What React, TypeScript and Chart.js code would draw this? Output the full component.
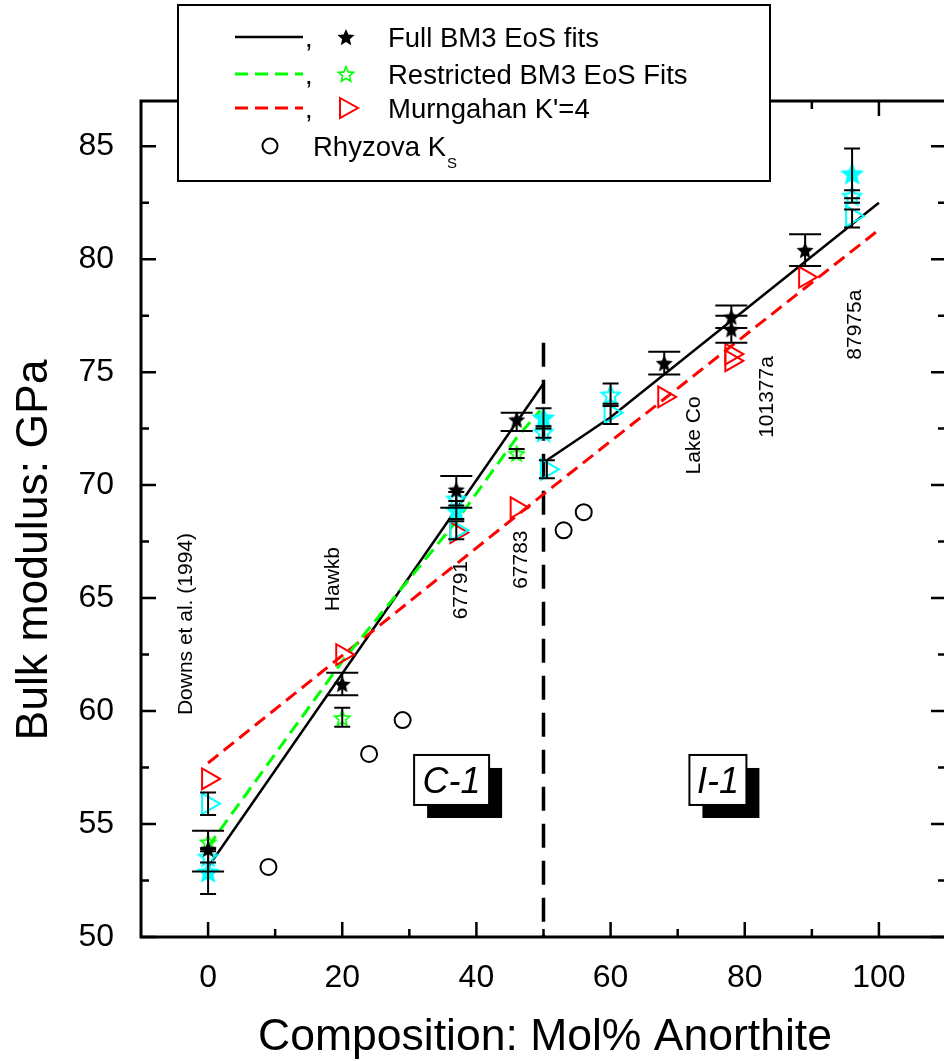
import React, { useEffect, useRef } from "react";
import { Chart, registerables } from "chart.js";
Chart.register(...registerables);

// ---------------- DATA ----------------
// Full BM3 EoS fits (black filled stars) with error bars
const fullBM3X = [0, 20, 37, 46, 68, 78, 78, 89];
const fullBM3Y = [53.9, 61.2, 69.8, 72.9, 75.4, 77.45, 76.9, 80.4];
const fullBM3Lo = [52.9, 60.7, 69.0, 72.4, 74.9, 76.95, 76.3, 79.7];
const fullBM3Hi = [54.7, 61.7, 70.4, 73.2, 75.9, 77.95, 77.5, 81.1];

// Restricted BM3 EoS fits (green open stars)
const restrictedX = [0, 20, 46];
const restrictedY = [54.2, 59.7, 71.4];
const restrictedLo = [null, 59.3, 71.2];
const restrictedHi = [null, 60.15, 71.6];

// Murnaghan K'=4 (red open triangles)
const murnaghanX = [0, 20, 37, 46, 68, 78, 78, 89];
const murnaghanY = [57.0, 62.5, 67.9, 69.0, 73.9, 75.8, 75.5, 79.2];

// Rhyzova K_S (open circles)
const rhyzovaX = [9, 24, 29, 53, 56];
const rhyzovaY = [53.1, 58.1, 59.6, 68.0, 68.8];

// Second sample set (cyan)
const cyanFullX = [0, 37, 50, 96];
const cyanFullY = [52.9, 68.9, 73.0, 83.8];
const cyanFullLo = [51.9, 68.5, 72.5, 82.7];
const cyanFullHi = [53.9, 69.3, 73.4, 84.9];

const cyanRestrX = [0, 37, 50, 60, 96];
const cyanRestrY = [53.55, 69.4, 72.35, 74.0, 82.8];
const cyanRestrLo = [53.3, 69.1, 72.1, 73.5, 82.5];
const cyanRestrHi = [53.8, 69.7, 72.6, 74.5, 83.05];

const cyanMurnX = [0, 37, 50.5, 60, 96];
const cyanMurnY = [55.9, 68.0, 70.7, 73.2, 81.9];
const cyanMurnLo = [55.4, 67.6, 70.3, 72.7, 81.4];
const cyanMurnHi = [56.4, 68.4, 71.1, 73.6, 82.2];

// Fit lines
const fullFitC1X = [0, 50];
const fullFitC1Y = [53.1, 74.5];
const fullFitI1X = [50, 60, 100];
const fullFitI1Y = [71.0, 73.0, 82.5];
const restrFitX = [0, 20, 37, 46, 49.5];
const restrFitY = [54.0, 62.2, 68.4, 72.1, 73.3];
const murnFitX = [0, 50, 100];
const murnFitY = [57.7, 69.6, 81.3];

// C-1 / I-1 boundary
const boundaryX = 50;
const boundaryY = [76.3, 50];

// Axes
const xTickVals = [0, 20, 40, 60, 80, 100];
const xMinorVals = [10, 30, 50, 70, 90];
const yTickVals = [50, 55, 60, 65, 70, 75, 80, 85];
const yMinorVals = [52.5, 57.5, 62.5, 67.5, 72.5, 77.5, 82.5];

// Sample labels
const sampleLabels = ["Downs et al. (1994)", "Hawkb", "67791", "67783", "Lake Co", "101377a", "87975a"];
const sampleLabelX = [-3.3, 18.7, 37.7, 46.7, 72.5, 83.4, 96.4];
const sampleLabelY = [63.85, 65.84, 65.35, 66.7, 72.2, 73.9, 77.1];

const legendLabels = ["Full BM3 EoS fits", "Restricted BM3 EoS Fits", "Murngahan K'=4", "Rhyzova K"];

// ---------------- LAYOUT ----------------
const CW = 960;
const CH = 1061;
const FONT = "Arial, 'Liberation Sans', Helvetica, sans-serif";

const zip = (xs: number[], ys: (number | null)[]) => xs.map((x, i) => ({ x, y: ys[i] as number }));

function starPath(ctx: CanvasRenderingContext2D, cx: number, cy: number, R: number, r: number) {
  ctx.beginPath();
  for (let i = 0; i < 10; i++) {
    const ang = -Math.PI / 2 + (i * Math.PI) / 5;
    const rad = i % 2 === 0 ? R : r;
    const px = cx + Math.cos(ang) * rad;
    const py = cy + Math.sin(ang) * rad;
    if (i === 0) ctx.moveTo(px, py);
    else ctx.lineTo(px, py);
  }
  ctx.closePath();
}

function makeStar(R: number, fill: string | null, stroke: string | null, lw: number) {
  const s = Math.ceil(2 * R + lw * 2 + 4);
  const c = document.createElement("canvas");
  c.width = s;
  c.height = s;
  const ctx = c.getContext("2d")!;
  starPath(ctx, s / 2, s / 2 + R * 0.1, R, R * 0.45);
  if (fill) {
    ctx.fillStyle = fill;
    ctx.fill();
  }
  if (stroke) {
    ctx.strokeStyle = stroke;
    ctx.lineWidth = lw;
    ctx.stroke();
  }
  return c;
}

export default function App() {
  const ref = useRef<HTMLCanvasElement>(null);

  useEffect(() => {
    const canvas = ref.current!;
    const blackStar = makeStar(9, "#000", null, 0);
    const cyanStar = makeStar(12.5, "#00ffff", null, 0);
    const greenOpenStar = makeStar(8, null, "#00ff00", 1.6);
    const cyanOpenStar = makeStar(9.5, null, "#00ffff", 2);

    const errGroups = [
      { xs: fullBM3X, lo: fullBM3Lo, hi: fullBM3Hi, cap: 16 },
      { xs: restrictedX, lo: restrictedLo, hi: restrictedHi, cap: 8 },
      { xs: cyanFullX, lo: cyanFullLo, hi: cyanFullHi, cap: 8 },
      { xs: cyanRestrX, lo: cyanRestrLo, hi: cyanRestrHi, cap: 8 },
      { xs: cyanMurnX, lo: cyanMurnLo, hi: cyanMurnHi, cap: 8 },
    ];

    const decor = {
      id: "decor",
      beforeDatasetsDraw(chart: any) {
        const { ctx, scales } = chart;
        const x = scales.x, y = scales.y;
        ctx.save();
        ctx.strokeStyle = "#000";
        ctx.lineWidth = 3.5;
        ctx.setLineDash([24, 13]);
        const px = x.getPixelForValue(boundaryX);
        ctx.beginPath();
        ctx.moveTo(px, y.getPixelForValue(boundaryY[0]));
        ctx.lineTo(px, y.getPixelForValue(boundaryY[1]));
        ctx.stroke();
        ctx.restore();
      },
      afterDatasetsDraw(chart: any) {
        const { ctx, scales, chartArea } = chart;
        const x = scales.x, y = scales.y;
        ctx.save();
        // error bars
        ctx.strokeStyle = "#000";
        ctx.lineWidth = 2;
        ctx.setLineDash([]);
        errGroups.forEach((g) => {
          g.xs.forEach((xv, i) => {
            const lo = g.lo[i], hi = g.hi[i];
            if (lo == null || hi == null) return;
            const px = x.getPixelForValue(xv);
            const pl = y.getPixelForValue(lo);
            const ph = y.getPixelForValue(hi);
            ctx.beginPath();
            ctx.moveTo(px, pl);
            ctx.lineTo(px, ph);
            ctx.moveTo(px - g.cap, pl);
            ctx.lineTo(px + g.cap, pl);
            ctx.moveTo(px - g.cap, ph);
            ctx.lineTo(px + g.cap, ph);
            ctx.stroke();
          });
        });

        // frame
        const { left, right, top, bottom } = chartArea;
        ctx.lineWidth = 3;
        ctx.strokeRect(left, top, right - left, bottom - top);
        // ticks
        ctx.lineWidth = 2.5;
        ctx.beginPath();
        const tk = (vals: number[], len: number) => {
          vals.forEach((v) => {
            const px = x.getPixelForValue(v);
            ctx.moveTo(px, bottom);
            ctx.lineTo(px, bottom - len);
            ctx.moveTo(px, top);
            ctx.lineTo(px, top + len);
          });
        };
        const tky = (vals: number[], len: number) => {
          vals.forEach((v) => {
            const py = y.getPixelForValue(v);
            ctx.moveTo(left, py);
            ctx.lineTo(left + len, py);
            ctx.moveTo(right, py);
            ctx.lineTo(right - len, py);
          });
        };
        tk(xTickVals, 15);
        tk(xMinorVals, 8);
        tky(yTickVals, 15);
        tky(yMinorVals, 8);
        ctx.stroke();

        // sample labels (rotated)
        ctx.fillStyle = "#000";
        ctx.font = `21px ${FONT}`;
        ctx.textAlign = "center";
        ctx.textBaseline = "middle";
        sampleLabels.forEach((t, i) => {
          ctx.save();
          ctx.translate(x.getPixelForValue(sampleLabelX[i]), y.getPixelForValue(sampleLabelY[i]));
          ctx.rotate(-Math.PI / 2);
          ctx.fillText(t, 0, 0);
          ctx.restore();
        });

        // phase boxes
        const phaseBox = (label: string, cx: number, cy: number, w: number, h: number) => {
          const px = x.getPixelForValue(cx);
          const py = y.getPixelForValue(cy);
          ctx.fillStyle = "#000";
          ctx.fillRect(px - w / 2 + 13, py - h / 2 + 13, w, h);
          ctx.fillStyle = "#fff";
          ctx.fillRect(px - w / 2, py - h / 2, w, h);
          ctx.strokeStyle = "#000";
          ctx.lineWidth = 2;
          ctx.strokeRect(px - w / 2, py - h / 2, w, h);
          ctx.fillStyle = "#000";
          ctx.font = `italic 36px ${FONT}`;
          ctx.textAlign = "center";
          ctx.textBaseline = "alphabetic";
          ctx.fillText(label, px, py + 13);
        };
        phaseBox("C-1", 36.3, 56.95, 75, 50);
        phaseBox("I-1", 76.0, 56.95, 57, 50);

        // axis titles
        ctx.fillStyle = "#000";
        ctx.font = `44.5px ${FONT}`;
        ctx.textAlign = "center";
        ctx.textBaseline = "alphabetic";
        ctx.fillText("Composition: Mol% Anorthite", 545, 1050);
        ctx.save();
        ctx.translate(47, 550);
        ctx.rotate(-Math.PI / 2);
        ctx.fillText("Bulk modulus: GPa", 0, 0);
        ctx.restore();

        // legend
        const LX = 178, LY = 5, LW = 592, LH = 176;
        ctx.fillStyle = "#fff";
        ctx.fillRect(LX, LY, LW, LH);
        ctx.strokeStyle = "#000";
        ctx.lineWidth = 2;
        ctx.strokeRect(LX, LY, LW, LH);
        const rows = [37, 74, 108];
        const lineColors = ["#000", "#00ff00", "#ff0000"];
        rows.forEach((ry, i) => {
          ctx.strokeStyle = lineColors[i];
          ctx.lineWidth = i === 0 ? 2.5 : 3;
          ctx.setLineDash(i === 0 ? [] : [13, 7]);
          ctx.beginPath();
          ctx.moveTo(235, ry);
          ctx.lineTo(303, ry);
          ctx.stroke();
          ctx.setLineDash([]);
          ctx.fillStyle = "#000";
          ctx.font = `27.5px ${FONT}`;
          ctx.textAlign = "left";
          ctx.textBaseline = "alphabetic";
          ctx.fillText(",", 305, ry + 10);
          ctx.fillText(legendLabels[i], 388, ry + 10);
        });
        ctx.drawImage(blackStar, 346 - blackStar.width / 2, 37 - blackStar.height / 2);
        ctx.drawImage(greenOpenStar, 346 - greenOpenStar.width / 2, 74 - greenOpenStar.height / 2);
        // triangle
        ctx.strokeStyle = "#ff0000";
        ctx.lineWidth = 2;
        ctx.beginPath();
        ctx.moveTo(340, 98);
        ctx.lineTo(358, 108);
        ctx.lineTo(340, 118);
        ctx.closePath();
        ctx.stroke();
        // circle
        ctx.strokeStyle = "#000";
        ctx.beginPath();
        ctx.arc(270, 146, 7.5, 0, Math.PI * 2);
        ctx.stroke();
        ctx.fillStyle = "#000";
        ctx.font = `27.5px ${FONT}`;
        ctx.fillText(legendLabels[3], 313, 156);
        const kw = ctx.measureText(legendLabels[3]).width;
        ctx.font = `15px ${FONT}`;
        ctx.fillText("S", 313 + kw + 1, 168);
        ctx.restore();
      },
    };

    const lineDs = (xs: number[], ys: number[], color: string, dash: number[], width: number, order: number) => ({
      data: zip(xs, ys),
      showLine: true,
      borderColor: color,
      borderWidth: width,
      borderDash: dash,
      pointRadius: 0,
      fill: false,
      tension: 0,
      order,
    });

    const chart = new Chart(canvas, {
      type: "scatter",
      data: {
        datasets: [
          lineDs(fullFitC1X, fullFitC1Y, "#000", [], 2.5, 20),
          lineDs(fullFitI1X, fullFitI1Y, "#000", [], 2.5, 20),
          lineDs(restrFitX, restrFitY, "#00ff00", [13, 7], 3, 19),
          lineDs(murnFitX, murnFitY, "#ff0000", [13, 7], 3, 19),
          {
            data: zip(rhyzovaX, rhyzovaY),
            pointStyle: "circle",
            pointRadius: 8,
            borderColor: "#000",
            backgroundColor: "rgba(0,0,0,0)",
            borderWidth: 2,
            order: 10,
          },
          {
            data: zip(murnaghanX, murnaghanY),
            pointStyle: "triangle",
            pointRotation: 90,
            pointRadius: 12,
            borderColor: "#ff0000",
            backgroundColor: "rgba(0,0,0,0)",
            borderWidth: 2,
            order: 9,
          },
          {
            data: zip(cyanMurnX, cyanMurnY),
            pointStyle: "triangle",
            pointRotation: 90,
            pointRadius: 12,
            borderColor: "#00ffff",
            backgroundColor: "rgba(0,0,0,0)",
            borderWidth: 2,
            order: 8,
          },
          {
            data: zip(restrictedX, restrictedY),
            pointStyle: greenOpenStar as any,
            pointRadius: 8,
            order: 7,
          },
          {
            data: zip(cyanRestrX, cyanRestrY),
            pointStyle: cyanOpenStar as any,
            pointRadius: 8,
            order: 6,
          },
          {
            data: zip(cyanFullX, cyanFullY),
            pointStyle: cyanStar as any,
            pointRadius: 8,
            order: 5,
          },
          {
            data: zip(fullBM3X, fullBM3Y),
            pointStyle: blackStar as any,
            pointRadius: 8,
            order: 4,
          },
        ] as any,
      },
      options: {
        animation: false,
        responsive: false,
        maintainAspectRatio: false,
        layout: { padding: { top: 101, right: 12, left: 0, bottom: 0 } },
        plugins: { legend: { display: false }, tooltip: { enabled: false } },
        scales: {
          x: {
            type: "linear",
            min: -10,
            max: 110,
            afterBuildTicks: (ax: any) => {
              ax.ticks = xTickVals.map((v) => ({ value: v }));
            },
            afterFit: (ax: any) => {
              ax.height = 124;
            },
            grid: { display: false },
            border: { display: false },
            ticks: {
              font: { size: 32, family: FONT },
              color: "#000",
              padding: 14,
              maxRotation: 0,
              autoSkip: false,
            },
          },
          y: {
            type: "linear",
            min: 50,
            max: 87,
            afterBuildTicks: (ax: any) => {
              ax.ticks = yTickVals.map((v) => ({ value: v }));
            },
            afterFit: (ax: any) => {
              ax.width = 141;
            },
            grid: { display: false },
            border: { display: false },
            ticks: {
              font: { size: 32, family: FONT },
              color: "#000",
              padding: 19,
              autoSkip: false,
            },
          },
        },
      } as any,
      plugins: [decor],
    });
    return () => chart.destroy();
  }, []);

  return (
    <div
      style={{
        position: "fixed",
        left: 0,
        top: 0,
        width: 944,
        height: 1061,
        overflow: "hidden",
        background: "#fff",
      }}
    >
      <canvas ref={ref} width={CW} height={CH} style={{ display: "block", width: CW, height: CH }} />
    </div>
  );
}
